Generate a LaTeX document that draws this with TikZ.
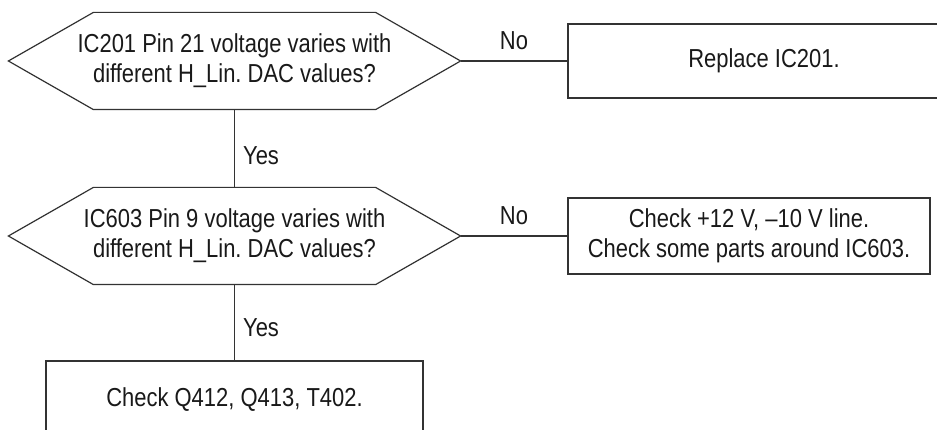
\documentclass[tikz,border=0pt]{standalone}
\usepackage{fontspec}
\setmainfont{Liberation Sans}[FakeStretch=0.845]
\begin{document}
\frenchspacing
\begin{tikzpicture}[x=1pt,y=-1pt,
  line width=1.2pt,
  color=black!80,
  txt/.style={font=\fontsize{26}{30}\selectfont, align=center, inner sep=0pt, text=black!90},
  hexbox/.style={txt, minimum width=451pt, minimum height=96pt},
  rectbox/.style={txt, draw=black!80, line width=1.2pt},
  lbl/.style={font=\fontsize{26}{30}\selectfont, inner sep=0pt, text=black!90}]
\useasboundingbox (0,0) rectangle (937,430);

% decision 1
\node[hexbox] (h1) at (234.5,61) {IC201 Pin 21 voltage varies with\\different H\_Lin. DAC values?};
\draw (h1.west) -- ([xshift=85pt]h1.north west) -- ([xshift=-85pt]h1.north east) -- (h1.east)
  -- ([xshift=-85pt]h1.south east) -- ([xshift=85pt]h1.south west) -- cycle;

% decision 2
\node[hexbox] (h2) at (234.5,236) {IC603 Pin 9 voltage varies with\\different H\_Lin. DAC values?};
\draw (h2.west) -- ([xshift=85pt]h2.north west) -- ([xshift=-85pt]h2.north east) -- (h2.east)
  -- ([xshift=-85pt]h2.south east) -- ([xshift=85pt]h2.south west) -- cycle;

% boxes
\node[rectbox, minimum width=392pt, minimum height=74pt] (r1) at (764,61) {Replace IC201.};
\node[rectbox, minimum width=362pt, minimum height=76pt] (r2) at (749,236) {Check +12 V, --10 V line.\\Check some parts around IC603.};
\node[rectbox, minimum width=377pt, minimum height=78pt] (b3) at (234.5,400) {Check Q412, Q413, T402.};

% connectors
\draw (h1.east) -- node[lbl, above=11pt] {No} (r1.west);
\draw (h2.east) -- node[lbl, above=11pt] {No} (r2.west);
\draw (h1.south) -- node[lbl, pos=0.59, right=8pt] {Yes} (h2.north);
\draw (h2.south) -- node[lbl, pos=0.57, right=8pt] {Yes} (b3.north);
\end{tikzpicture}
\end{document}
